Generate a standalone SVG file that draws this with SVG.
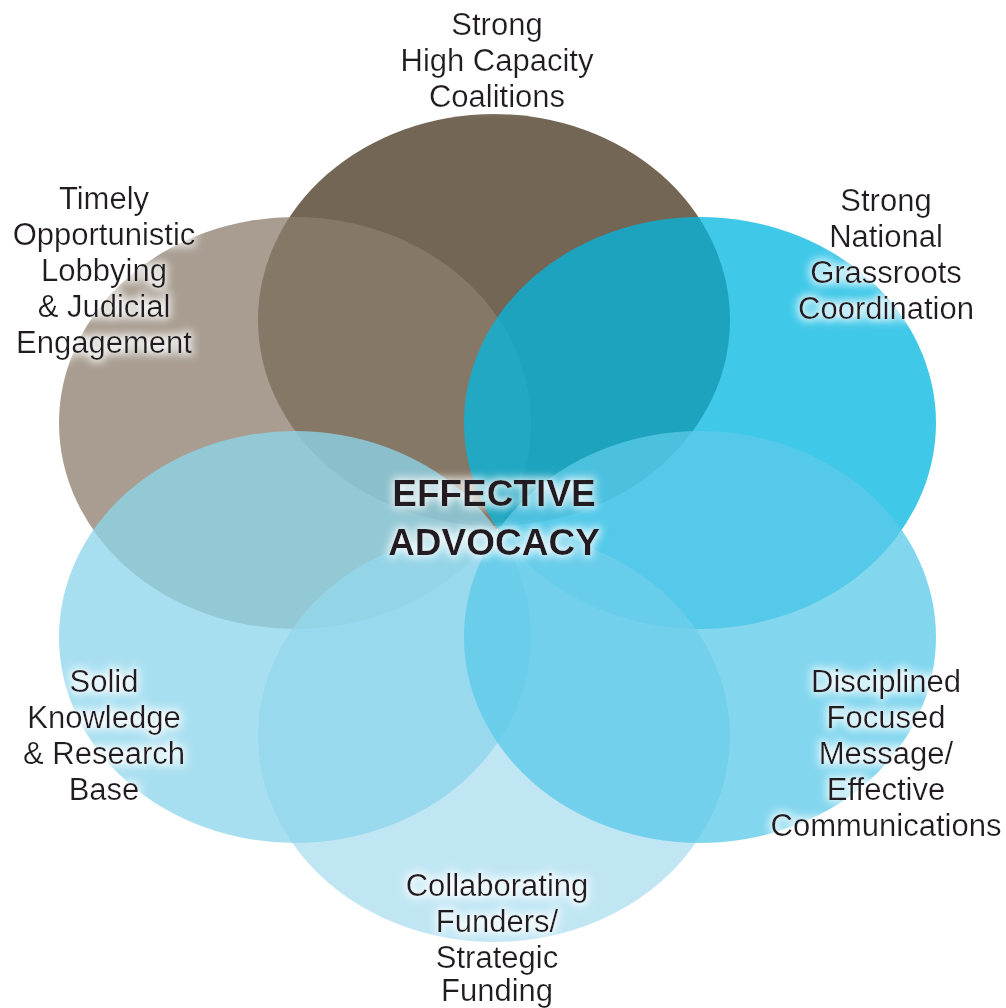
<svg xmlns="http://www.w3.org/2000/svg" width="1006" height="1008" viewBox="0 0 1006 1008">
  <defs>
    <filter id="glow" x="-20%" y="-30%" width="140%" height="160%">
      <feMorphology in="SourceAlpha" operator="dilate" radius="2" result="d"/>
      <feGaussianBlur in="d" stdDeviation="4" result="b"/>
      <feFlood flood-color="#ffffff" flood-opacity="0.85"/>
      <feComposite in2="b" operator="in" result="g"/>
      <feMerge><feMergeNode in="g"/><feMergeNode in="SourceGraphic"/></feMerge>
    </filter>
  </defs>
  <style>
    .petal { opacity: 0.76; }
    .lbl { font-family: "Liberation Sans", Arial, Helvetica, sans-serif; font-size: 31px; fill: #231f20; text-anchor: middle; }
    .center { font-family: "Liberation Sans", Arial, sans-serif; font-weight: bold; font-size: 37px; fill: #231f20; text-anchor: middle; }
  </style>
  <rect width="1006" height="1008" fill="#ffffff"/>

  <g id="node-coalitions">
    <ellipse class="petal" cx="494" cy="320" rx="236" ry="206" fill="#473620"/>
    <g filter="url(#glow)">
      <text class="lbl" x="497" y="35">Strong</text>
      <text class="lbl" x="497" y="71">High Capacity</text>
      <text class="lbl" x="497" y="107">Coalitions</text>
    </g>
  </g>

  <g id="node-lobbying">
    <ellipse class="petal" cx="295" cy="423" rx="236" ry="206" fill="#8d7e6d"/>
    <g filter="url(#glow)">
      <text class="lbl" x="104" y="209">Timely</text>
      <text class="lbl" x="104" y="245">Opportunistic</text>
      <text class="lbl" x="104" y="281">Lobbying</text>
      <text class="lbl" x="104" y="317">&amp; Judicial</text>
      <text class="lbl" x="104" y="353">Engagement</text>
    </g>
  </g>

  <g id="node-grassroots">
    <ellipse class="petal" cx="700" cy="423" rx="236" ry="206" fill="#04b7e1"/>
    <g filter="url(#glow)">
      <text class="lbl" x="886" y="211">Strong</text>
      <text class="lbl" x="886" y="247">National</text>
      <text class="lbl" x="886" y="283">Grassroots</text>
      <text class="lbl" x="886" y="319">Coordination</text>
    </g>
  </g>

  <g id="node-funding">
    <ellipse class="petal" cx="494" cy="736" rx="236" ry="206" fill="#acdef1"/>
    <g filter="url(#glow)">
      <text class="lbl" x="497" y="896">Collaborating</text>
      <text class="lbl" x="497" y="932">Funders/</text>
      <text class="lbl" x="497" y="968">Strategic</text>
      <text class="lbl" x="497" y="1001">Funding</text>
    </g>
  </g>

  <g id="node-knowledge">
    <ellipse class="petal" cx="295" cy="637" rx="236" ry="206" fill="#8dd5eb"/>
    <g filter="url(#glow)">
      <text class="lbl" x="104" y="692">Solid</text>
      <text class="lbl" x="104" y="728">Knowledge</text>
      <text class="lbl" x="104" y="764">&amp; Research</text>
      <text class="lbl" x="104" y="800">Base</text>
    </g>
  </g>

  <g id="node-message">
    <ellipse class="petal" cx="700" cy="637" rx="236" ry="206" fill="#5bc9e9"/>
    <g filter="url(#glow)">
      <text class="lbl" x="886" y="692">Disciplined</text>
      <text class="lbl" x="886" y="728">Focused</text>
      <text class="lbl" x="886" y="764">Message/</text>
      <text class="lbl" x="886" y="800">Effective</text>
      <text class="lbl" x="886" y="836">Communications</text>
    </g>
  </g>

  <g id="connectors"></g>

  <g id="node-center" filter="url(#glow)">
    <text class="center" x="494" y="506">EFFECTIVE</text>
    <text class="center" x="494" y="555">ADVOCACY</text>
  </g>
</svg>
